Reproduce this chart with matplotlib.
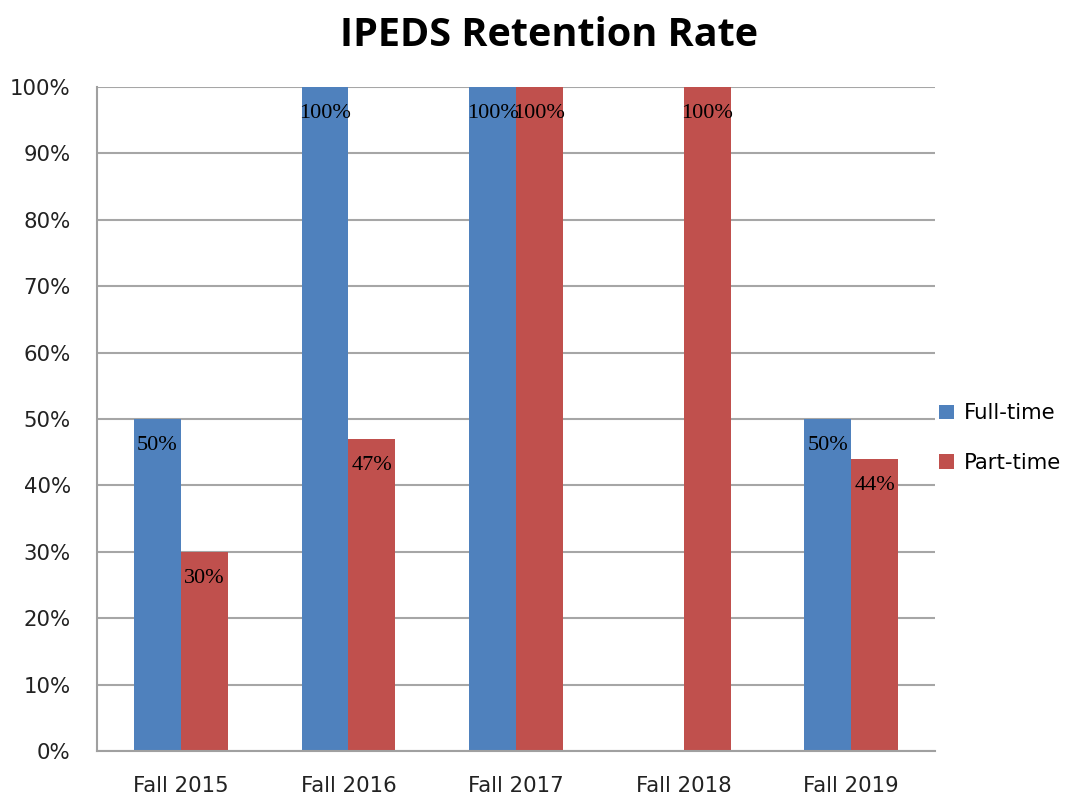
import numpy as np
import matplotlib
matplotlib.use("Agg")
import matplotlib.pyplot as plt
from matplotlib.ticker import PercentFormatter

categories = ["Fall 2015", "Fall 2016", "Fall 2017", "Fall 2018", "Fall 2019"]
full_time = [50, 100, 100, 0, 50]
part_time = [30, 47, 100, 100, 44]

plt.rcParams['font.family'] = ['DejaVu Sans']

fig = plt.figure(figsize=(10.65, 7.97), dpi=100)
ax = fig.add_axes([0.0911, 0.0577, 0.7869, 0.8331])

x = np.arange(len(categories))
w = 0.28
b1 = ax.bar(x - w / 2, full_time, w, color="#4F81BD", label="Full-time", zorder=2)
b2 = ax.bar(x + w / 2, part_time, w, color="#C0504D", label="Part-time", zorder=2)

# value labels just under the top of each bar
for bars, vals in ((b1, full_time), (b2, part_time)):
    for bar, v in zip(bars, vals):
        if v == 0:
            continue
        ax.text(bar.get_x() + bar.get_width() / 2, v - 4, f"{v}%",
                ha="center", va="center", fontsize=16,
                family="Liberation Serif", color="black", zorder=3)

ax.set_xlim(-0.5, len(categories) - 0.5)
ax.set_ylim(0, 100)
ax.set_yticks(range(0, 101, 10))
ax.yaxis.set_major_formatter(PercentFormatter(decimals=0))
ax.set_xticks(x)
ax.set_xticklabels(categories)
ax.tick_params(axis="x", length=0, pad=18, labelsize=15.3, colors="#222222")
ax.tick_params(axis="y", length=0, labelsize=15.3, colors="#222222", pad=19)
ax.yaxis.grid(True, color="#a6a6a6", linewidth=1.5, zorder=0)
for s in ["top", "right"]:
    ax.spines[s].set_visible(False)
for s in ["left", "bottom"]:
    ax.spines[s].set_color("#a0a0a0")
    ax.spines[s].set_linewidth(1.5)

fig.text(549 / 1065, 1 - 35 / 797, "IPEDS Retention Rate", ha="center", va="center",
         fontsize=28.5, fontweight="bold", family="Open Sans")

ax.legend(loc="center left", bbox_to_anchor=(1.0, 0.471), frameon=False,
          fontsize=15.3, handlelength=0.7, handleheight=0.7,
          labelspacing=1.4, handletextpad=0.45, borderaxespad=0.1, borderpad=0.1)

fig.savefig("out.png", dpi=100)
